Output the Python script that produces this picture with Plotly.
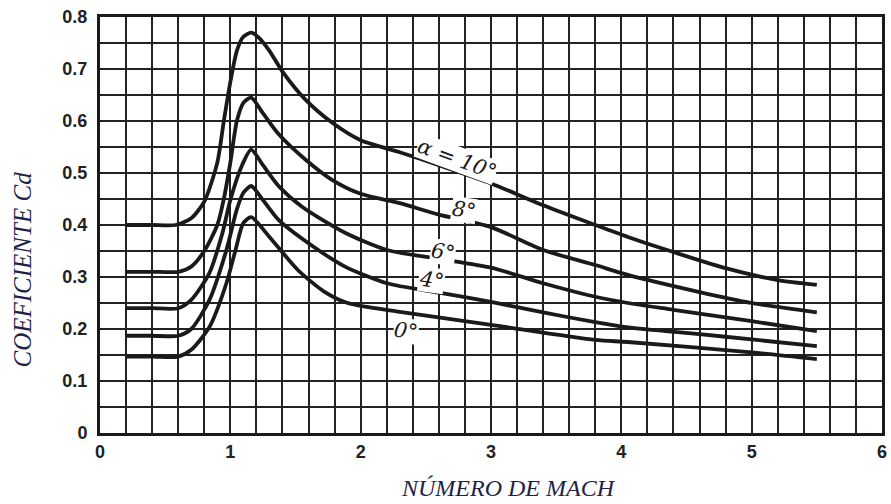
import plotly.graph_objects as go

# Mach number / drag coefficient, one list pair per angle of attack
mach_10 = [0.2, 0.4, 0.58, 0.7, 0.8, 0.9, 0.95, 1.0, 1.05, 1.1, 1.16, 1.22, 1.3, 1.4, 1.58, 1.78, 2.0, 2.3, 2.6, 3.0, 3.4, 3.8, 4.05, 4.4, 4.8, 5.2, 5.5]
cd_10   = [0.40, 0.40, 0.40, 0.413, 0.445, 0.52, 0.60, 0.675, 0.735, 0.762, 0.77, 0.76, 0.735, 0.695, 0.64, 0.597, 0.563, 0.54, 0.515, 0.48, 0.438, 0.40, 0.377, 0.348, 0.317, 0.294, 0.285]

mach_8 = [0.2, 0.4, 0.6, 0.7, 0.8, 0.9, 0.95, 1.0, 1.05, 1.1, 1.16, 1.25, 1.37, 1.58, 1.78, 2.0, 2.3, 2.6, 3.0, 3.4, 3.8, 4.05, 4.6, 5.0, 5.5]
cd_8   = [0.31, 0.31, 0.31, 0.32, 0.35, 0.40, 0.45, 0.52, 0.60, 0.635, 0.645, 0.615, 0.575, 0.525, 0.487, 0.46, 0.442, 0.42, 0.396, 0.352, 0.323, 0.304, 0.271, 0.25, 0.232]

mach_6 = [0.2, 0.4, 0.6, 0.7, 0.84, 0.94, 1.0, 1.09, 1.16, 1.25, 1.37, 1.55, 1.88, 2.2, 2.6, 3.0, 3.4, 3.8, 4.05, 4.4, 5.0, 5.5]
cd_6   = [0.24, 0.24, 0.24, 0.256, 0.308, 0.385, 0.448, 0.515, 0.545, 0.515, 0.475, 0.435, 0.385, 0.352, 0.335, 0.318, 0.288, 0.262, 0.25, 0.237, 0.215, 0.196]

mach_4 = [0.2, 0.4, 0.6, 0.7, 0.84, 0.97, 1.05, 1.1, 1.16, 1.25, 1.37, 1.6, 1.88, 2.2, 2.6, 3.0, 3.4, 3.8, 4.05, 4.6, 5.0, 5.5]
cd_4   = [0.187, 0.187, 0.187, 0.20, 0.256, 0.352, 0.43, 0.462, 0.475, 0.448, 0.41, 0.365, 0.32, 0.288, 0.27, 0.252, 0.232, 0.213, 0.203, 0.19, 0.18, 0.167]

mach_0 = [0.2, 0.4, 0.6, 0.7, 0.84, 0.97, 1.04, 1.1, 1.16, 1.3, 1.52, 1.72, 1.9, 2.3, 3.0, 3.8, 4.05, 5.0, 5.5]
cd_0   = [0.147, 0.147, 0.147, 0.16, 0.204, 0.288, 0.352, 0.404, 0.415, 0.377, 0.313, 0.272, 0.25, 0.233, 0.208, 0.179, 0.175, 0.155, 0.142]

series = [(mach_10, cd_10), (mach_8, cd_8), (mach_6, cd_6), (mach_4, cd_4), (mach_0, cd_0)]

# curve labels: text, x, y, angle
label_text = ["\u03b1 = 10\u00b0", "8\u00b0", "6\u00b0", "4\u00b0", "0\u00b0"]
label_x = [2.74, 2.79, 2.63, 2.54, 2.35]
label_y = [0.527, 0.428, 0.348, 0.294, 0.197]
label_angle = [20, 8, 8, 8, 8]

x_ticks = [0, 1, 2, 3, 4, 5, 6]
y_ticks = [0, 0.1, 0.2, 0.3, 0.4, 0.5, 0.6, 0.7, 0.8]
y_tick_text = ["0", "0.1", "0.2", "0.3", "0.4", "0.5", "0.6", "0.7", "0.8"]

fig = go.Figure()
for mx, cd in series:
    fig.add_trace(go.Scatter(x=mx, y=cd, mode="lines",
                             line=dict(color="#1a1a1a", width=3.8, shape="spline", smoothing=0.7),
                             showlegend=False, hoverinfo="skip"))

for t, lx, ly, ang in zip(label_text, label_x, label_y, label_angle):
    fig.add_annotation(x=lx, y=ly, text=t, showarrow=False, textangle=ang,
                       font=dict(family="DejaVu Serif", size=21, color="#1a1a1a", style="italic"),
                       bgcolor="white", borderpad=0)

grid_col = "#222222"
fig.update_xaxes(range=[0, 6], tickvals=x_ticks, ticktext=[str(v) for v in x_ticks],
                 showgrid=True, gridcolor=grid_col, gridwidth=1.8,
                 minor=dict(dtick=0.2, showgrid=True, gridcolor=grid_col, gridwidth=1.8),
                 showline=True, linecolor="#1a1a1a", linewidth=3, mirror=True,
                 ticks="", zeroline=False,
                 tickfont=dict(family="Liberation Sans", size=18, color="#222222", weight="bold"))
fig.update_yaxes(range=[0, 0.8], tickvals=y_ticks, ticktext=y_tick_text,
                 showgrid=True, gridcolor=grid_col, gridwidth=1.8,
                 minor=dict(dtick=0.05, showgrid=True, gridcolor=grid_col, gridwidth=1.8),
                 showline=True, linecolor="#1a1a1a", linewidth=3, mirror=True,
                 ticks="", zeroline=False, ticklabelstandoff=6,
                 tickfont=dict(family="Liberation Sans", size=18, color="#222222", weight="bold"))

fig.add_annotation(xref="paper", yref="paper", x=(22 - 100) / 787, y=(433 - 269) / 416,
                   xanchor="center", yanchor="middle",
                   text="COEFICIENTE Cd", textangle=-90, showarrow=False,
                   font=dict(family="Liberation Serif", size=25, color="#1b2445", style="italic"))
fig.add_annotation(xref="paper", yref="paper", x=(511 - 100) / 787, y=-(488 - 433) / 416,
                   xanchor="center", yanchor="middle",
                   text="N\u00daMERO DE MACH", showarrow=False,
                   font=dict(family="Liberation Serif", size=24, color="#1b2445", style="italic"))

fig.update_layout(width=891, height=504, margin=dict(l=100, r=4, t=17, b=71),
                  plot_bgcolor="white", paper_bgcolor="white")
fig.write_html("out.html")
